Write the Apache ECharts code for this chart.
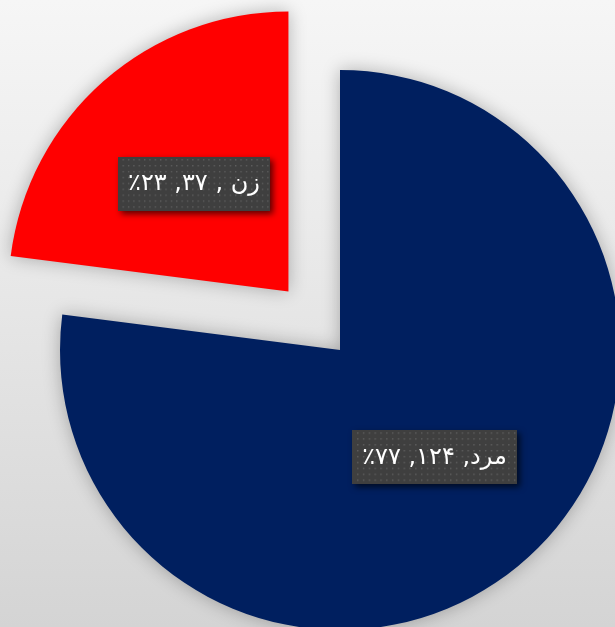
<!DOCTYPE html>
<html>
<head>
<meta charset="utf-8">
<script src="https://cdn.jsdelivr.net/npm/echarts@6/dist/echarts.min.js"></script>
<style>
  html, body { margin: 0; padding: 0; }
  #chart { width: 615px; height: 627px; }
</style>
</head>
<body>
<div id="chart"></div>
<script>
// Respondents by gender
const categories = ['مرد', 'زن '];
const counts = [124, 37];
const sliceColors = ['#001f5f', '#ff0000'];
const explodedIndex = 1;

// Western digits -> Persian digits
function toFa(n) {
  return String(n).replace(/\d/g, d => '۰۱۲۳۴۵۶۷۸۹'[d]);
}

// Dotted dark texture used behind the labels
function dottedTexture(w, h) {
  const c = document.createElement('canvas');
  c.width = w; c.height = h;
  const g = c.getContext('2d');
  g.fillStyle = '#3f3f3f';
  g.fillRect(0, 0, w, h);
  g.fillStyle = 'rgba(120,120,120,0.55)';
  for (let y = 2; y < h; y += 6) {
    for (let x = (y / 6) % 2 ? 5 : 2; x < w; x += 6) {
      g.fillRect(x, y, 1.5, 1.5);
    }
  }
  return c;
}
const texture = dottedTexture(170, 55);

const chart = echarts.init(document.getElementById('chart'));
chart.setOption({
  backgroundColor: {
    type: 'linear', x: 0, y: 0, x2: 0, y2: 1,
    colorStops: [
      { offset: 0, color: '#f6f6f6' },
      { offset: 0.5, color: '#e6e6e6' },
      { offset: 1, color: '#d4d4d4' }
    ]
  },
  animation: false,
  series: [{
    type: 'pie',
    center: [340, 350],
    radius: [0, 280],
    startAngle: 90,
    clockwise: true,
    selectedMode: 'single',
    selectedOffset: 78,
    percentPrecision: 0,
    avoidLabelOverlap: false,
    itemStyle: {
      shadowBlur: 18,
      shadowColor: 'rgba(0,0,0,0.28)'
    },
    emphasis: { disabled: true },
    label: {
      show: true,
      position: 'inside',
      formatter: p => p.name + ', ' + toFa(p.value) + ', ' + toFa(p.percent) + '٪\u200F',
      color: '#ffffff',
      fontFamily: 'DejaVu Sans',
      fontSize: 24,
      backgroundColor: { image: texture },
      padding: [15, 10, 15, 10],
      shadowColor: 'rgba(0,0,0,0.65)',
      shadowBlur: 6,
      shadowOffsetX: 3,
      shadowOffsetY: 3
    },
    labelLine: { show: false },
    data: categories.map((name, i) => ({
      name: name,
      value: counts[i],
      selected: i === explodedIndex,
      itemStyle: { color: sliceColors[i] }
    }))
  }]
});
</script>
</body>
</html>
